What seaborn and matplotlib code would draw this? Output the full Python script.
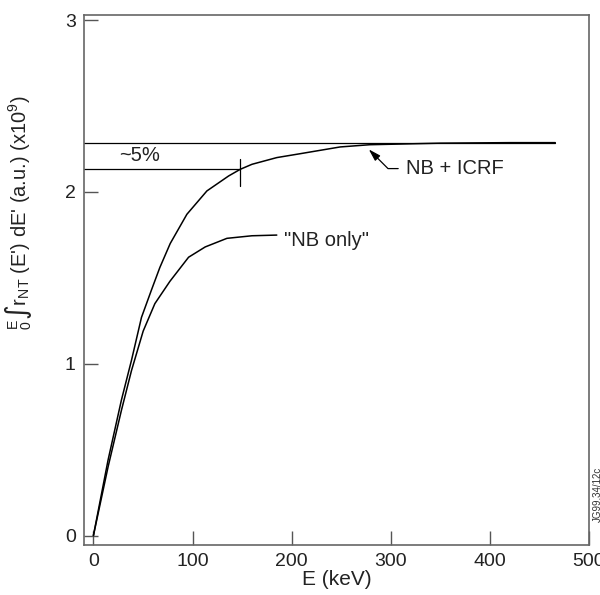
import pandas as pd
import numpy as np
import matplotlib.pyplot as plt
import seaborn as sns

# curve values (E in keV, integral in units of 1e9)
e_icrf = [0, 14.8, 28.3, 38.4, 48.5, 58.6, 67, 77.5, 94.3, 114.5, 136.4, 148.2,
          160, 185, 209, 249, 279, 350, 420, 466]
f_icrf = [0, 0.44, 0.79, 1.02, 1.27, 1.43, 1.56, 1.70, 1.87, 2.006, 2.093, 2.132,
          2.161, 2.20, 2.223, 2.262, 2.275, 2.284, 2.287, 2.287]

e_nb = [0, 14.8, 28.3, 38.4, 50.2, 62, 77.2, 96, 112.8, 134.7, 160, 185]
f_nb = [0, 0.40, 0.73, 0.96, 1.19, 1.35, 1.48, 1.62, 1.68, 1.73, 1.745, 1.749]

level_top = 2.287
level_5pct = 2.132
e_mark = 148

x_ticks = [0, 100, 200, 300, 400, 500]
y_ticks = [0, 1, 2, 3]

df = pd.concat([
    pd.DataFrame({'E': e_icrf, 'F': f_icrf, 'case': 'NB + ICRF'}),
    pd.DataFrame({'E': e_nb, 'F': f_nb, 'case': 'NB only'}),
])

sns.set_theme(style="ticks")
plt.rcParams['font.family'] = ['Liberation Sans', 'DejaVu Sans']
plt.rcParams['mathtext.default'] = 'regular'

fig = plt.figure(figsize=(6, 5.95), dpi=100)
ax = fig.add_axes([84 / 600, 50 / 595, 505 / 600, 530 / 595])

sns.lineplot(data=df, x='E', y='F', units='case', estimator=None, sort=False,
             color='black', linewidth=1.1, ax=ax, legend=False)

xmin, xmax = -9.5, 500
ax.set_xlim(xmin, xmax)
ax.set_ylim(-0.055, 3.03)

# reference levels
ax.plot([xmin, e_icrf[-1]], [level_top, level_top], color='black', linewidth=0.9)
ax.plot([xmin, e_mark], [level_5pct, level_5pct], color='black', linewidth=0.9)
ax.plot([e_mark, e_mark], [2.035, 2.19], color='black', linewidth=0.9)

ax.text(47, 2.21, '~5%', fontsize=14.5, ha='center', va='center', color='#222222')
ax.text(192, 1.716, '"NB only"', fontsize=14.5, ha='left', va='center', color='#222222')
ax.annotate('NB + ICRF', xy=(277.8, 2.248), xytext=(315, 2.136),
            fontsize=14.5, ha='left', va='center', color='#222222',
            arrowprops=dict(arrowstyle='-|>,head_length=0.5,head_width=0.15',
                            color='black', linewidth=0.9, shrinkA=3, shrinkB=0,
                            connectionstyle='angle,angleA=0,angleB=-45,rad=0'))

ax.set_xticks(x_ticks)
ax.set_yticks(y_ticks)
ax.tick_params(direction='in', length=10, width=1, color='#555555',
               labelsize=14, labelcolor='#222222', pad=6)
for s in ax.spines.values():
    s.set_visible(True)
    s.set_color('#666666')
    s.set_linewidth(1.2)

ax.set_xlabel('E (keV)', fontsize=15, color='#222222', labelpad=0)
ax.set_ylabel(r"$_0^E$∫r$_{NT}$ (E') dE' (a.u.) (x10$^9$)", fontsize=14.5, color='#222222')
ax.yaxis.set_label_coords(-0.100, 0.628)

fig.text(0.996, 0.123, 'JG99.34/12c', rotation=90, fontsize=7, ha='center',
         va='bottom', color='#333333')

fig.savefig('out.png', dpi=100)
